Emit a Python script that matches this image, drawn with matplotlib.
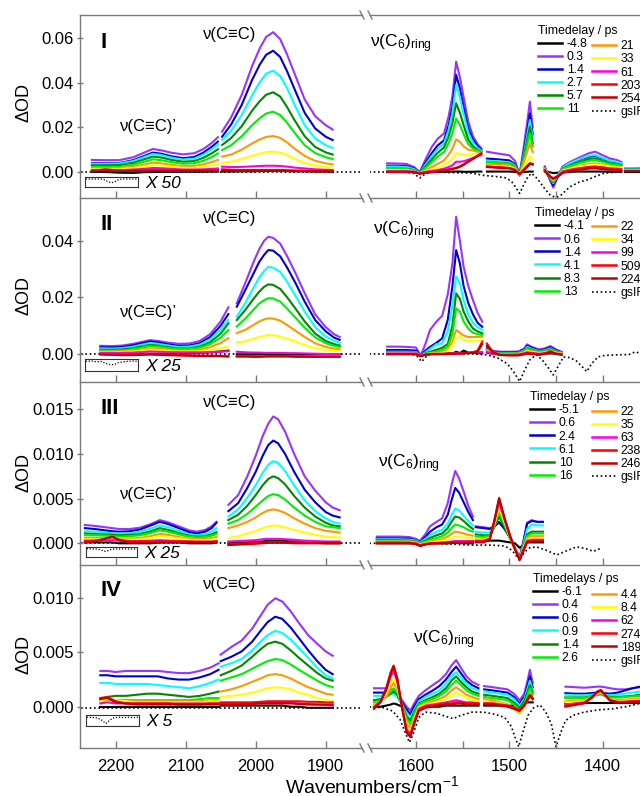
import matplotlib
matplotlib.use('Agg')
import matplotlib.pyplot as plt
from matplotlib.lines import Line2D
from matplotlib.ticker import FormatStrFormatter
import numpy as np

plt.rcParams['font.family'] = ['Liberation Sans', 'DejaVu Sans']
plt.rcParams['mathtext.fontset'] = 'custom'
plt.rcParams['mathtext.rm'] = 'Liberation Sans'
plt.rcParams['mathtext.it'] = 'Liberation Sans:italic'
plt.rcParams['mathtext.bf'] = 'Liberation Sans:bold'

# ---------------- series styling / labels ----------------
COLORS = ['#000000', '#9933FF', '#0000CD', '#00FFFF', '#008800', '#00EE00',
          '#FF9900', '#FFFF00', '#FF00DD', '#FF0000', '#C00000']
LABELS_I = ['-4.8', '0.3', '1.4', '2.7', '5.7', '11', '21', '33', '61', '203', '2540']
LABELS_II = ['-4.1', '0.6', '1.4', '4.1', '8.3', '13', '22', '34', '99', '509', '2240']
LABELS_III = ['-5.1', '0.6', '2.4', '6.1', '10', '16', '22', '35', '63', '238', '2460']
LABELS_IV = ['-6.1', '0.4', '0.6', '0.9', '1.4', '2.6', '4.4', '8.4', '62', '274', '1890']
GS_LABEL = 'gsIR'

# ---------------- data (mOD), rows in legend order ----------------
# Panel I
P1_WN_A = [2234, 2215, 2195, 2175, 2160, 2147, 2135, 2120, 2104, 2088, 2075, 2062, 2054]
P1_A = [
    [0.1, 0.0, -0.3, -0.4, -0.1, 0.0, 0.1, 0.1, 0.1, 0.1, 0.1, 0.2, 0.2],
    [5.4, 5.3, 5.3, 6.6, 8.6, 10.3, 9.7, 8.6, 7.9, 8.4, 10.2, 13.2, 15.6],
    [3.9, 3.9, 4.0, 5.3, 7.1, 8.7, 8.2, 7.0, 6.2, 6.7, 8.6, 11.5, 13.6],
    [3.6, 3.6, 3.8, 4.9, 6.6, 8.1, 7.6, 6.4, 5.6, 6.0, 7.7, 10.4, 12.4],
    [3.0, 3.0, 3.1, 4.1, 5.6, 6.9, 6.5, 5.4, 4.6, 4.9, 6.3, 8.5, 10.2],
    [2.2, 2.2, 2.3, 3.2, 4.5, 5.7, 5.3, 4.4, 3.7, 3.9, 5.0, 6.8, 8.3],
    [1.8, 1.7, 1.8, 2.4, 3.3, 4.2, 3.9, 3.2, 2.6, 2.7, 3.4, 4.5, 5.4],
    [1.3, 1.2, 1.3, 1.8, 2.4, 3.1, 2.9, 2.3, 1.9, 1.9, 2.3, 2.9, 3.4],
    [0.8, 0.8, 0.8, 1.1, 1.4, 1.8, 1.7, 1.4, 1.1, 1.1, 1.2, 1.4, 1.6],
    [0.6, 1.2, 0.7, 0.7, 0.8, 0.9, 0.9, 0.8, 0.7, 0.7, 0.7, 0.8, 0.9],
    [0.5, 1.0, 0.5, 0.5, 0.5, 0.6, 0.6, 0.5, 0.5, 0.5, 0.5, 0.6, 0.7],
]
P1_WN_B = [2048, 2035, 2020, 2005, 1994, 1985, 1975, 1965, 1955, 1945, 1930, 1915, 1900, 1890]
P1_B = [
    [0.2, 0.2, 0.3, 0.3, 0.4, 0.4, 0.5, 0.5, 0.4, 0.3, 0.3, 0.2, 0.2, 0.1],
    [18.1, 24.5, 34.5, 47.5, 55.5, 60.5, 62.6, 59.5, 52.5, 44.5, 32.5, 25.0, 21.0, 19.0],
    [15.8, 21.3, 30.0, 41.3, 48.2, 52.5, 54.3, 51.5, 45.0, 37.5, 26.5, 19.5, 15.8, 14.3],
    [14.3, 18.5, 25.5, 34.5, 40.3, 44.0, 45.4, 43.0, 37.5, 30.5, 21.0, 15.0, 12.0, 10.8],
    [12.1, 15.2, 20.5, 27.5, 31.8, 34.6, 35.7, 33.8, 29.0, 23.5, 16.0, 11.2, 8.8, 7.8],
    [9.8, 12.0, 16.0, 21.0, 24.2, 26.2, 27.0, 25.5, 22.0, 17.8, 12.0, 8.5, 6.6, 5.8],
    [6.9, 7.8, 10.0, 12.8, 14.6, 15.7, 16.1, 15.3, 13.2, 10.6, 7.2, 5.0, 3.9, 3.4],
    [4.2, 4.6, 5.8, 7.3, 8.3, 8.9, 9.1, 8.7, 7.5, 6.0, 4.1, 2.9, 2.2, 1.9],
    [2.4, 2.2, 2.3, 2.5, 2.7, 2.8, 2.8, 2.7, 2.4, 2.0, 1.6, 1.2, 1.0, 0.9],
    [1.2, 1.0, 0.9, 0.9, 0.9, 0.9, 0.9, 0.9, 0.8, 0.7, 0.6, 0.5, 0.5, 0.5],
    [0.8, 0.6, 0.5, 0.5, 0.5, 0.5, 0.5, 0.5, 0.5, 0.4, 0.4, 0.3, 0.3, 0.3],
]
P1_WN_C = [1631, 1620, 1610, 1602, 1596, 1590, 1583, 1577, 1570, 1565, 1561, 1557, 1553, 1549, 1544, 1539, 1534, 1530]
P1_C = [
    [0.0, 0.0, 0.0, 0.0, -0.3, -0.1, 0.0, 0.1, 0.1, 0.1, 0.2, 0.2, 0.2, 0.1, 0.1, 0.1, 0.2, 0.2],
    [3.9, 3.8, 3.6, 2.2, 0.0, 5.5, 11.3, 14.8, 17.3, 25.0, 34.0, 49.4, 42.5, 33.5, 22.5, 16.0, 12.5, 10.6],
    [2.8, 2.8, 2.6, 1.6, -0.3, 4.0, 8.5, 11.8, 14.2, 21.0, 29.0, 43.5, 37.5, 29.0, 19.5, 14.5, 11.5, 10.0],
    [2.4, 2.4, 2.2, 1.3, -0.4, 3.2, 7.2, 10.2, 12.7, 19.0, 26.5, 39.0, 33.5, 26.0, 17.5, 13.2, 10.8, 9.6],
    [1.6, 1.6, 1.5, 0.8, -0.5, 2.4, 5.8, 8.5, 11.0, 16.0, 22.0, 30.8, 26.5, 21.0, 14.5, 11.5, 9.8, 9.1],
    [1.6, 1.6, 1.4, 0.7, -0.5, 1.8, 4.5, 6.8, 9.0, 13.0, 17.5, 24.0, 21.0, 17.0, 12.5, 10.5, 9.5, 9.0],
    [0.9, 0.9, 0.8, 0.3, -0.6, 0.8, 2.2, 3.6, 5.2, 7.8, 10.5, 14.6, 13.5, 11.5, 10.0, 9.6, 9.0, 8.7],
    [0.9, 0.9, 0.8, 0.3, -0.6, 0.4, 1.2, 2.0, 3.0, 4.5, 6.0, 8.4, 8.2, 7.6, 7.8, 8.0, 8.1, 8.1],
    [0.4, 0.4, 0.4, 0.2, -0.6, 0.1, 0.5, 0.9, 1.5, 2.2, 3.0, 4.6, 4.6, 4.8, 5.5, 6.3, 7.0, 7.6],
    [0.1, 0.1, 0.1, 0.0, -0.7, -0.2, 0.0, 0.3, 0.8, 1.2, 1.5, 1.9, 2.5, 3.4, 4.8, 6.0, 7.4, 8.4],
    [0.0, 0.0, 0.0, -0.1, -0.8, -0.3, -0.1, 0.2, 0.6, 1.0, 1.3, 1.7, 2.3, 3.2, 4.6, 5.8, 7.2, 8.2],
]
P1_WN_D = [1524, 1516, 1508, 1500, 1494, 1489, 1485, 1481, 1478, 1475]
P1_D = [
    [0.2, 0.2, 0.2, 0.2, 0.0, -0.2, 0.0, 0.1, 0.2, 0.2],
    [9.1, 8.5, 8.0, 7.5, 5.0, -1.0, 10.0, 22.0, 31.5, 20.0],
    [6.0, 5.8, 5.5, 5.2, 3.5, -1.5, 8.0, 18.0, 26.3, 17.0],
    [5.0, 4.8, 4.6, 4.4, 3.0, -1.5, 7.0, 16.0, 23.3, 15.0],
    [4.4, 4.2, 4.0, 3.8, 2.5, -1.5, 6.0, 14.0, 20.3, 13.0],
    [4.4, 4.2, 4.0, 3.7, 2.4, -1.4, 5.0, 12.0, 17.3, 11.5],
    [3.5, 3.3, 3.1, 2.9, 1.8, -1.3, 3.8, 9.0, 12.8, 9.0],
    [2.8, 2.6, 2.5, 2.3, 1.4, -1.2, 2.0, 4.8, 6.9, 5.5],
    [2.4, 2.2, 2.0, 1.8, 1.0, -1.0, 1.0, 2.8, 3.9, 3.5],
    [2.5, 2.2, 2.0, 1.8, 1.0, -1.0, 0.8, 2.5, 3.9, 3.6],
    [2.2, 2.0, 1.8, 1.6, 0.8, -1.0, 0.6, 2.2, 3.6, 3.3],
]
P1_WN_E = [1462, 1458, 1453, 1448, 1443, 1435, 1425, 1415, 1408, 1400, 1392, 1385, 1380]
P1_E = [
    [0.2, 0.0, -0.5, -0.3, 0.0, 0.1, 0.2, 0.2, 0.2, 0.2, 0.1, 0.1, 0.1],
    [2.5, -2.0, -7.0, -2.0, 2.5, 4.5, 6.5, 8.4, 9.1, 7.5, 6.0, 5.4, 4.5],
    [2.0, -2.0, -6.0, -2.0, 2.0, 3.8, 5.5, 6.8, 7.2, 6.0, 4.8, 4.3, 3.8],
    [1.8, -1.8, -5.0, -1.5, 2.0, 4.0, 5.8, 7.3, 7.6, 6.3, 5.0, 4.5, 4.0],
    [1.5, -1.5, -4.5, -1.5, 1.5, 3.0, 4.5, 5.8, 6.1, 5.0, 4.0, 3.6, 3.2],
    [1.5, -1.5, -4.2, -1.5, 1.3, 2.6, 4.0, 5.0, 5.4, 4.5, 3.6, 3.2, 2.8],
    [1.2, -1.2, -3.8, -1.5, 0.8, 1.8, 2.8, 3.6, 3.9, 3.3, 2.7, 2.4, 2.1],
    [1.0, -1.2, -3.5, -1.5, 0.6, 1.5, 2.4, 3.1, 3.4, 2.9, 2.4, 2.1, 1.9],
    [0.8, -1.2, -3.0, -1.5, 0.3, 1.0, 1.7, 2.2, 2.4, 2.0, 1.7, 1.5, 1.3],
    [0.8, -1.5, -3.0, -2.0, -0.3, 0.8, 1.6, 2.2, 2.4, 2.0, 1.5, 1.2, 1.0],
    [0.5, -1.5, -3.0, -2.0, -0.5, 0.4, 1.0, 1.5, 1.6, 1.3, 1.0, 0.8, 0.6],
]
P1_WN_F = [1376, 1365, 1355, 1345]
P1_F = [
    [0.1, 0.1, 0.1, 0.1], [1.6, 1.6, 1.7, 1.7], [1.3, 1.3, 1.4, 1.4], [1.2, 1.2, 1.3, 1.3],
    [1.0, 1.0, 1.1, 1.1], [0.9, 0.9, 1.0, 1.0], [0.7, 0.7, 0.8, 0.8], [0.6, 0.6, 0.7, 0.7],
    [0.5, 0.5, 0.5, 0.5], [0.4, 0.4, 0.4, 0.4], [0.3, 0.3, 0.3, 0.3],
]
P1_GS_L_WN = [2250, 2150, 2050, 1950, 1850]
P1_GS_L = [0.0, 0.0, 0.0, 0.0, 0.0]
P1_GS_R_WN = [1650, 1615, 1603, 1596, 1590, 1582, 1560, 1540, 1528, 1515, 1505, 1498, 1493, 1489, 1485, 1480,
              1476, 1470, 1463, 1456, 1450, 1445, 1440, 1435, 1425, 1417, 1408, 1399, 1390, 1381, 1364, 1340]
P1_GS_R = [0.0, 0.0, -0.5, -2.7, -0.8, 0.0, -0.3, -0.5, -1.5, -2.0, -2.5, -4.0, -7.0, -9.6, -6.0, -2.0,
           -0.6, -3.0, -7.0, -10.5, -11.4, -10.5, -8.5, -6.6, -4.5, -3.6, -2.0, -0.6, -0.2, 0.0, 0.7, 0.5]

# Panel II
P2_WN_A = [2222, 2205, 2190, 2175, 2162, 2151, 2140, 2125, 2110, 2095, 2080, 2065, 2050, 2039]
P2_A = [
    [0.0, 0.0, 0.0, 0.0, 0.1, 0.1, 0.1, 0.1, 0.2, 0.3, 0.4, 0.6, 0.9, 1.2],
    [2.9, 2.8, 3.0, 3.6, 4.3, 4.9, 4.6, 4.0, 3.6, 3.7, 4.6, 7.0, 11.5, 16.5],
    [2.4, 2.3, 2.5, 3.1, 3.8, 4.4, 4.1, 3.4, 2.9, 3.0, 3.8, 6.0, 10.0, 14.1],
    [2.0, 1.9, 2.1, 2.6, 3.3, 3.9, 3.6, 3.0, 2.5, 2.6, 3.3, 5.2, 8.5, 12.0],
    [1.5, 1.5, 1.6, 2.1, 2.7, 3.2, 3.0, 2.4, 2.0, 2.0, 2.6, 4.2, 7.2, 10.8],
    [1.2, 1.2, 1.3, 1.7, 2.3, 2.8, 2.6, 2.1, 1.7, 1.7, 2.2, 3.5, 5.8, 8.5],
    [0.9, 0.9, 1.0, 1.2, 1.6, 2.0, 1.9, 1.5, 1.2, 1.2, 1.5, 2.4, 3.9, 5.6],
    [0.6, 0.6, 0.7, 0.9, 1.2, 1.5, 1.4, 1.1, 0.9, 0.9, 1.0, 1.4, 2.0, 2.6],
    [0.4, 0.4, 0.4, 0.5, 0.7, 0.9, 0.8, 0.7, 0.6, 0.6, 0.6, 0.7, 0.8, 1.0],
    [0.0, -0.2, -0.3, -0.3, -0.2, 0.0, -0.1, -0.3, -0.4, -0.5, -0.6, -0.6, -0.7, -0.8],
    [-0.2, -0.3, -0.4, -0.4, -0.3, -0.2, -0.3, -0.4, -0.5, -0.6, -0.7, -0.7, -0.8, -0.9],
]
P2_WN_B = [2027, 2015, 2003, 1995, 1988, 1982, 1975, 1965, 1955, 1943, 1930, 1915, 1900, 1888, 1880]
P2_B = [
    [-0.1, -0.1, -0.1, 0.0, 0.0, 0.0, 0.0, 0.0, 0.0, -0.1, -0.1, -0.1, -0.1, -0.1, -0.1],
    [17.9, 25.0, 32.5, 37.0, 40.0, 41.4, 41.0, 39.0, 34.5, 28.5, 21.5, 14.0, 9.5, 7.0, 6.0],
    [16.7, 22.5, 28.5, 32.5, 35.0, 36.7, 36.5, 34.5, 30.5, 25.0, 18.5, 12.0, 8.0, 5.8, 5.0],
    [13.2, 18.0, 23.5, 27.0, 29.3, 30.8, 30.5, 29.0, 25.5, 20.5, 15.0, 9.5, 6.2, 4.6, 4.0],
    [12.0, 15.5, 19.5, 22.0, 23.7, 24.6, 24.4, 23.0, 20.0, 16.0, 11.5, 7.2, 4.6, 3.5, 3.0],
    [9.7, 12.5, 15.7, 17.8, 19.0, 19.7, 19.6, 18.5, 16.0, 12.8, 9.3, 5.9, 3.8, 2.9, 2.5],
    [7.4, 8.5, 10.3, 11.5, 12.2, 12.6, 12.5, 11.8, 10.2, 8.2, 6.0, 3.8, 2.5, 1.9, 1.6],
    [4.0, 4.5, 5.4, 6.0, 6.4, 6.7, 6.6, 6.2, 5.4, 4.4, 3.2, 2.0, 1.4, 1.1, 1.0],
    [0.8, 0.6, 0.5, 0.5, 0.4, 0.4, 0.4, 0.4, 0.3, 0.3, 0.2, 0.1, 0.0, 0.0, 0.0],
    [-0.8, -0.8, -0.8, -0.8, -0.8, -0.7, -0.7, -0.7, -0.7, -0.8, -0.8, -0.9, -0.9, -0.9, -0.9],
    [-0.9, -0.9, -1.0, -1.0, -0.9, -0.9, -0.9, -0.9, -0.9, -1.0, -1.0, -1.0, -1.0, -1.0, -1.0],
]
P2_WN_C = [1631, 1620, 1610, 1600, 1595, 1590, 1585, 1578, 1572, 1566, 1561, 1557, 1553, 1549, 1544, 1539, 1534, 1529]
P2_C = [
    [0.0, 0.0, 0.0, 0.0, -0.3, -0.1, 0.0, 0.0, 0.0, 0.3, 0.1, 0.8, 0.3, 1.2, 0.5, 0.4, 0.3, 0.2],
    [2.6, 2.6, 2.5, 2.3, -0.5, 3.5, 8.5, 11.5, 13.5, 21.0, 32.0, 48.5, 40.0, 30.8, 24.0, 19.0, 14.5, 11.4],
    [1.4, 1.4, 1.4, 1.2, -0.6, 1.2, 2.5, 4.0, 5.5, 12.0, 24.0, 36.7, 32.0, 24.0, 18.0, 14.0, 11.0, 9.6],
    [0.8, 0.8, 0.8, 0.7, -0.6, 0.6, 1.8, 3.5, 3.7, 8.0, 17.0, 27.3, 25.0, 19.0, 14.0, 11.0, 9.5, 8.5],
    [0.6, 0.6, 0.6, 0.5, -0.6, 0.3, 0.8, 1.5, 2.2, 3.5, 10.0, 21.4, 19.5, 15.0, 11.5, 9.0, 8.0, 7.3],
    [0.5, 0.5, 0.5, 0.4, -0.6, 0.2, 0.5, 0.9, 1.4, 2.5, 7.0, 16.1, 15.0, 11.5, 9.0, 7.5, 7.0, 6.7],
    [0.4, 0.4, 0.4, 0.3, -0.6, 0.0, 0.2, 0.4, 0.7, 1.5, 4.5, 8.5, 7.5, 6.5, 6.0, 6.0, 6.0, 6.1],
    [0.3, 0.3, 0.3, 0.2, -0.6, -0.1, 0.1, 0.2, 0.4, 1.0, 3.0, 5.5, 6.1, 5.0, 4.5, 4.5, 4.7, 4.9],
    [0.2, 0.2, 0.2, 0.2, -0.6, -0.1, 0.0, 0.1, 0.1, 0.2, 0.3, 0.4, 0.4, 0.4, 0.5, 0.5, 0.6, 0.7],
    [0.0, 0.0, 0.0, 0.0, -0.7, -0.2, 0.0, 0.0, 0.0, 0.1, 0.2, 0.2, 0.2, 0.3, 0.4, 0.6, 1.2, 4.4],
    [-0.1, -0.1, -0.1, -0.1, -0.8, -0.3, -0.1, -0.1, -0.1, 0.0, 0.1, 0.1, 0.1, 0.2, 0.3, 0.4, 0.8, 3.5],
]
P2_WN_D = [1524, 1518, 1510, 1500, 1490, 1484, 1481, 1476, 1468, 1462, 1456, 1450, 1444]
P2_D = [
    [0.5, 0.0, 0.0, 0.0, 0.0, 0.1, 0.2, 0.1, 0.0, 0.1, 0.2, 0.1, 0.0],
    [2.6, 1.2, 0.8, 0.8, 0.9, 2.0, 3.4, 2.5, 1.6, 2.0, 2.8, 1.6, 0.8],
    [2.0, 0.8, 0.5, 0.5, 0.6, 1.6, 2.9, 2.2, 1.2, 1.6, 2.4, 1.3, 0.6],
    [1.6, 0.6, 0.3, 0.3, 0.4, 1.3, 2.5, 1.8, 1.0, 1.3, 2.0, 1.0, 0.5],
    [1.3, 0.4, 0.1, 0.1, 0.2, 1.0, 2.0, 1.5, 0.8, 1.0, 1.7, 0.8, 0.3],
    [1.3, 0.4, 0.1, 0.1, 0.2, 0.9, 1.8, 1.3, 0.7, 0.9, 1.5, 0.7, 0.3],
    [1.2, 0.3, 0.0, 0.0, 0.1, 0.7, 1.4, 1.0, 0.5, 0.7, 1.2, 0.5, 0.2],
    [1.0, 0.2, -0.1, -0.1, 0.0, 0.5, 1.0, 0.7, 0.3, 0.5, 0.9, 0.4, 0.1],
    [0.8, 0.1, -0.2, -0.2, -0.1, 0.3, 0.6, 0.4, 0.1, 0.3, 0.6, 0.2, 0.0],
    [3.7, 0.8, -0.3, -0.4, -0.4, 0.0, 0.4, 0.2, -0.2, 0.2, 1.0, 0.1, -0.2],
    [3.0, 0.5, -0.4, -0.5, -0.5, -0.1, 0.2, 0.0, -0.3, 0.0, 0.7, 0.0, -0.3],
]
P2_GS_L_WN = [2250, 2150, 2050, 1950, 1850]
P2_GS_L = [0.0, 0.0, 0.0, 0.0, 0.0]
P2_GS_R_WN = [1650, 1605, 1599, 1594, 1588, 1582, 1540, 1524, 1512, 1502, 1495, 1489, 1484, 1478, 1471, 1465,
              1458, 1453, 1448, 1442, 1435, 1428, 1422, 1417, 1412, 1405, 1398, 1385, 1372, 1365, 1358, 1340]
P2_GS_R = [0.0, 0.0, -0.8, -2.7, -0.5, 0.0, 0.0, -0.3, -1.5, -3.5, -6.5, -9.7, -6.0, -2.0, -0.3, -2.0,
           -5.0, -7.4, -4.5, -1.0, -1.3, -2.5, -4.5, -6.2, -3.5, -1.0, -0.5, -0.3, -0.2, 0.8, 0.0, 0.0]

# Panel III
P3_WN_A = [2244, 2230, 2215, 2205, 2195, 2180, 2165, 2150, 2137, 2125, 2110, 2095, 2084, 2072, 2063, 2056]
P3_A = [
    [0.1, 0.1, 0.1, 0.1, 0.0, 0.0, 0.0, 0.0, 0.1, 0.1, 0.1, 0.0, 0.0, 0.0, 0.0, 0.1],
    [2.05, 1.95, 1.8, 1.7, 1.6, 1.6, 1.75, 2.15, 2.6, 2.35, 1.9, 1.45, 1.3, 1.5, 1.9, 2.4],
    [1.7, 1.6, 1.45, 1.35, 1.3, 1.35, 1.55, 2.0, 2.4, 2.15, 1.7, 1.25, 1.1, 1.3, 1.7, 2.3],
    [1.35, 1.3, 1.2, 1.1, 1.1, 1.1, 1.3, 1.65, 2.0, 1.8, 1.4, 1.0, 0.9, 1.0, 1.3, 1.7],
    [1.1, 1.05, 1.0, 0.95, 0.9, 0.95, 1.05, 1.35, 1.7, 1.5, 1.15, 0.85, 0.75, 0.8, 1.0, 1.25],
    [0.9, 0.9, 0.85, 0.8, 0.75, 0.8, 0.9, 1.15, 1.45, 1.3, 1.0, 0.75, 0.65, 0.7, 0.85, 1.05],
    [0.6, 0.6, 0.6, 0.55, 0.5, 0.55, 0.6, 0.8, 1.05, 0.95, 0.7, 0.55, 0.5, 0.5, 0.6, 0.7],
    [0.45, 0.45, 0.45, 0.45, 0.4, 0.4, 0.45, 0.6, 0.8, 0.7, 0.55, 0.4, 0.35, 0.35, 0.4, 0.5],
    [0.3, 0.3, 0.3, 0.35, 0.3, 0.25, 0.25, 0.3, 0.35, 0.3, 0.25, 0.2, 0.2, 0.2, 0.2, 0.25],
    [0.2, 0.3, 0.5, 0.7, 0.4, 0.2, 0.2, 0.2, 0.2, 0.2, 0.2, 0.2, 0.15, 0.15, 0.15, 0.2],
    [0.1, 0.2, 0.5, 0.75, 0.35, 0.1, 0.1, 0.1, 0.1, 0.1, 0.1, 0.1, 0.1, 0.1, 0.1, 0.1],
]
P3_WN_B = [2039, 2025, 2012, 2000, 1990, 1982, 1975, 1968, 1958, 1945, 1930, 1915, 1900, 1890, 1880]
P3_B = [
    [0.0, 0.05, 0.1, 0.15, 0.2, 0.3, 0.3, 0.3, 0.25, 0.2, 0.1, 0.05, 0.0, 0.0, 0.0],
    [4.3, 5.4, 7.5, 9.8, 12.0, 13.4, 14.2, 13.9, 12.5, 10.0, 7.5, 5.9, 4.6, 4.0, 3.7],
    [3.6, 4.5, 6.2, 8.0, 9.8, 11.0, 11.5, 11.2, 10.0, 8.0, 6.0, 4.6, 3.5, 3.1, 2.9],
    [3.0, 3.8, 5.1, 6.5, 7.9, 8.8, 9.2, 9.0, 8.1, 6.5, 4.8, 3.6, 2.8, 2.4, 2.2],
    [2.6, 3.2, 4.2, 5.4, 6.5, 7.2, 7.5, 7.3, 6.6, 5.3, 4.0, 3.0, 2.3, 2.0, 1.9],
    [2.2, 2.6, 3.3, 4.1, 4.8, 5.3, 5.5, 5.4, 4.9, 4.0, 3.1, 2.4, 1.9, 1.8, 1.7],
    [1.7, 2.0, 2.4, 2.9, 3.4, 3.7, 3.8, 3.7, 3.4, 2.8, 2.2, 1.7, 1.4, 1.3, 1.2],
    [0.6, 0.8, 1.1, 1.4, 1.7, 1.9, 2.0, 1.95, 1.8, 1.5, 1.2, 0.95, 0.75, 0.7, 0.65],
    [0.2, 0.25, 0.3, 0.35, 0.45, 0.5, 0.5, 0.5, 0.45, 0.4, 0.3, 0.25, 0.2, 0.2, 0.2],
    [-0.1, -0.05, 0.0, 0.05, 0.1, 0.1, 0.15, 0.15, 0.1, 0.1, 0.05, 0.05, 0.1, 0.1, 0.1],
    [-0.2, -0.15, -0.1, -0.05, 0.0, 0.05, 0.05, 0.05, 0.05, 0.0, 0.0, 0.0, 0.0, 0.0, 0.0],
]
P3_WN_C = [1642, 1630, 1618, 1607, 1600, 1596, 1590, 1585, 1578, 1572, 1566, 1562, 1558, 1554, 1549, 1544, 1539]
P3_C = [
    [0.0, 0.0, 0.0, 0.0, 0.0, -0.1, 0.0, 0.0, 0.0, 0.0, 0.0, 0.05, 0.05, 0.05, 0.0, 0.0, 0.0],
    [0.75, 0.75, 0.75, 0.7, 0.5, 0.25, 1.0, 1.9, 2.4, 2.8, 4.5, 6.5, 8.1, 7.3, 5.8, 4.2, 3.0],
    [0.55, 0.55, 0.55, 0.5, 0.35, 0.15, 0.7, 1.3, 1.8, 2.1, 3.2, 4.8, 6.2, 5.7, 4.6, 3.5, 2.6],
    [0.45, 0.45, 0.45, 0.4, 0.3, 0.1, 0.5, 0.9, 1.3, 1.5, 2.2, 3.1, 3.9, 3.7, 3.1, 2.5, 2.0],
    [0.35, 0.35, 0.35, 0.3, 0.2, 0.05, 0.3, 0.6, 0.9, 1.1, 1.7, 2.4, 3.0, 2.9, 2.5, 2.0, 1.6],
    [0.3, 0.3, 0.3, 0.25, 0.15, 0.0, 0.2, 0.4, 0.6, 0.8, 1.2, 1.7, 2.1, 2.0, 1.8, 1.5, 1.3],
    [0.2, 0.2, 0.2, 0.2, 0.1, -0.1, 0.1, 0.2, 0.35, 0.5, 0.75, 1.05, 1.3, 1.25, 1.1, 0.95, 0.85],
    [0.15, 0.15, 0.15, 0.15, 0.05, -0.15, 0.0, 0.1, 0.2, 0.3, 0.45, 0.6, 0.75, 0.7, 0.65, 0.6, 0.55],
    [0.1, 0.1, 0.1, 0.1, 0.0, -0.2, -0.05, 0.0, 0.05, 0.1, 0.15, 0.2, 0.25, 0.25, 0.25, 0.25, 0.25],
    [0.05, 0.05, 0.05, 0.05, -0.05, -0.25, -0.1, 0.0, 0.0, 0.05, 0.05, 0.1, 0.1, 0.1, 0.1, 0.15, 0.15],
    [0.0, 0.0, 0.0, 0.0, -0.1, -0.3, -0.15, -0.05, 0.0, 0.0, 0.0, 0.05, 0.05, 0.05, 0.05, 0.1, 0.1],
]
P3_WN_D = [1536, 1528, 1521, 1516, 1511, 1505, 1499, 1494, 1489, 1485, 1481, 1476, 1470, 1464]
P3_D = [
    [0.2, 0.2, 0.3, 0.3, 0.3, 0.2, 0.1, 0.0, -0.5, -0.2, 0.1, 0.1, 0.1, 0.1],
    [1.9, 1.8, 1.7, 1.9, 2.3, 1.6, 0.6, -0.6, -1.6, 0.2, 2.3, 2.6, 2.4, 2.4],
    [1.8, 1.7, 1.6, 1.9, 2.4, 1.6, 0.6, -0.6, -1.6, 0.1, 2.2, 2.5, 2.4, 2.4],
    [1.3, 1.2, 1.2, 2.0, 3.3, 2.0, 0.6, -0.6, -1.6, -0.1, 1.6, 2.1, 2.0, 2.0],
    [1.0, 0.9, 0.9, 1.8, 3.0, 1.8, 0.5, -0.6, -1.6, -0.3, 1.0, 1.3, 1.3, 1.3],
    [0.8, 0.7, 0.8, 2.0, 3.5, 2.0, 0.5, -0.6, -1.7, -0.4, 0.8, 1.1, 1.1, 1.1],
    [0.6, 0.5, 0.7, 2.3, 4.3, 2.4, 0.6, -0.6, -1.7, -0.5, 0.6, 0.8, 0.8, 0.8],
    [0.5, 0.4, 0.6, 2.2, 4.0, 2.3, 0.6, -0.6, -1.7, -0.6, 0.4, 0.6, 0.6, 0.6],
    [0.3, 0.3, 0.5, 2.5, 4.6, 2.6, 0.7, -0.6, -1.7, -0.7, 0.3, 0.4, 0.4, 0.4],
    [0.2, 0.2, 0.5, 2.6, 5.1, 2.8, 0.8, -0.6, -1.8, -0.8, 0.2, 0.3, 0.3, 0.3],
    [0.1, 0.1, 0.4, 2.5, 5.0, 2.7, 0.7, -0.7, -1.9, -0.9, 0.1, 0.2, 0.2, 0.2],
]
P3_GS_L_WN = [2250, 2150, 2050, 1950, 1850]
P3_GS_L = [0.0, 0.0, 0.0, 0.0, 0.0]
P3_GS_R_WN = [1650, 1605, 1600, 1596, 1590, 1580, 1540, 1520, 1505, 1497, 1489, 1484, 1478, 1471, 1460,
              1449, 1440, 1428, 1418, 1410, 1403]
P3_GS_R = [0.0, 0.0, -0.1, -0.4, -0.1, 0.0, -0.2, -0.2, -0.3, -0.8, -1.9, -1.0, -0.5, -0.4, -0.8,
           -1.3, -0.9, -0.4, -0.6, -0.9, -0.6]

# Panel IV
P4_WN_A = [2222, 2212, 2200, 2185, 2170, 2155, 2140, 2125, 2110, 2095, 2080, 2065, 2053]
P4_A = [
    [0.0, 0.0, 0.0, 0.0, 0.0, 0.0, 0.0, 0.0, 0.0, 0.0, 0.0, 0.0, 0.0],
    [3.3, 3.3, 3.2, 3.3, 3.3, 3.3, 3.3, 3.2, 3.1, 3.1, 3.3, 3.6, 4.0],
    [2.9, 2.9, 2.8, 2.8, 2.8, 2.8, 2.8, 2.6, 2.5, 2.5, 2.7, 3.0, 3.4],
    [2.2, 2.2, 2.1, 2.1, 2.1, 2.1, 2.0, 1.9, 1.8, 1.7, 1.9, 2.2, 2.5],
    [0.7, 0.9, 1.0, 1.0, 1.1, 1.2, 1.2, 1.1, 1.0, 0.9, 1.0, 1.2, 1.4],
    [0.5, 0.6, 0.6, 0.6, 0.6, 0.6, 0.6, 0.6, 0.6, 0.6, 0.7, 0.8, 0.8],
    [0.6, 0.8, 0.5, 0.5, 0.5, 0.5, 0.5, 0.5, 0.5, 0.5, 0.5, 0.6, 0.6],
    [0.5, 0.7, 0.6, 0.5, 0.4, 0.4, 0.4, 0.4, 0.4, 0.4, 0.4, 0.5, 0.5],
    [0.3, 0.4, 0.3, 0.3, 0.3, 0.3, 0.3, 0.3, 0.3, 0.3, 0.3, 0.3, 0.3],
    [0.8, 0.9, 0.5, 0.3, 0.3, 0.3, 0.3, 0.3, 0.2, 0.2, 0.2, 0.3, 0.3],
    [0.7, 0.8, 0.4, 0.3, 0.2, 0.2, 0.2, 0.2, 0.2, 0.2, 0.2, 0.2, 0.2],
]
P4_WN_B = [2050, 2035, 2020, 2005, 1993, 1983, 1972, 1962, 1950, 1938, 1925, 1912, 1900, 1890]
P4_B = [
    [0.1, 0.1, 0.1, 0.1, 0.1, 0.1, 0.1, 0.1, 0.0, 0.0, -0.1, -0.1, -0.1, -0.1],
    [4.8, 5.5, 6.1, 7.2, 8.4, 9.4, 10.0, 9.7, 8.8, 7.7, 6.6, 5.8, 5.1, 4.7],
    [4.2, 4.6, 5.1, 6.0, 7.0, 7.8, 8.3, 8.1, 7.3, 6.3, 5.2, 4.2, 3.4, 3.0],
    [3.7, 4.0, 4.4, 5.2, 6.0, 6.6, 7.0, 6.8, 6.2, 5.4, 4.5, 3.6, 2.9, 2.6],
    [2.9, 3.3, 3.8, 4.6, 5.3, 5.8, 6.0, 5.8, 5.2, 4.5, 3.8, 3.1, 2.6, 2.4],
    [2.4, 2.7, 3.0, 3.5, 3.9, 4.2, 4.4, 4.3, 3.9, 3.4, 2.9, 2.4, 2.0, 1.8],
    [1.4, 1.6, 1.9, 2.3, 2.6, 2.9, 3.0, 2.9, 2.6, 2.2, 1.8, 1.5, 1.2, 1.1],
    [0.9, 1.0, 1.1, 1.3, 1.5, 1.7, 1.8, 1.75, 1.6, 1.3, 1.1, 0.8, 0.6, 0.55],
    [0.3, 0.3, 0.3, 0.3, 0.35, 0.4, 0.4, 0.4, 0.35, 0.3, 0.25, 0.2, 0.15, 0.1],
    [0.4, 0.4, 0.4, 0.4, 0.45, 0.5, 0.5, 0.5, 0.5, 0.5, 0.45, 0.45, 0.4, 0.4],
    [0.2, 0.2, 0.2, 0.25, 0.3, 0.3, 0.3, 0.3, 0.3, 0.25, 0.2, 0.2, 0.2, 0.2],
]
P4_WN_C = [1645, 1638, 1632, 1627, 1624, 1620, 1615, 1610, 1606, 1602, 1597, 1590, 1582, 1575, 1568,
           1562, 1557, 1552, 1546, 1540, 1533]
P4_C = [
    [0.0, 0.0, 0.1, 0.2, 0.3, 0.2, 0.0, -0.2, -0.3, -0.1, 0.0, 0.0, 0.0, 0.0, 0.1, 0.1, 0.1, 0.1, 0.1, 0.1, 0.1],
    [1.7, 1.7, 1.7, 1.6, 1.5, 1.2, 0.6, 0.0, -0.4, 0.3, 1.0, 1.5, 2.0, 2.4, 3.0, 3.8, 4.3, 3.6, 2.8, 2.3, 2.0],
    [1.3, 1.3, 1.3, 1.3, 1.3, 1.0, 0.4, -0.3, -0.7, 0.0, 0.7, 1.1, 1.5, 1.9, 2.5, 3.2, 3.7, 3.1, 2.4, 2.0, 1.7],
    [1.0, 1.0, 1.1, 1.2, 1.2, 0.9, 0.2, -0.6, -1.0, -0.3, 0.5, 0.9, 1.2, 1.5, 2.1, 2.8, 3.2, 2.7, 2.1, 1.7, 1.5],
    [0.6, 0.7, 0.9, 1.2, 1.4, 1.1, 0.2, -0.9, -1.3, -0.5, 0.3, 0.6, 0.9, 1.2, 1.7, 2.4, 2.8, 2.3, 1.8, 1.4, 1.2],
    [0.4, 0.6, 0.9, 1.4, 1.7, 1.3, 0.2, -1.1, -1.6, -0.7, 0.2, 0.5, 0.7, 1.0, 1.4, 2.0, 2.4, 2.0, 1.5, 1.2, 1.0],
    [0.2, 0.5, 1.0, 1.8, 2.2, 1.6, 0.1, -1.5, -2.0, -1.0, 0.0, 0.3, 0.5, 0.7, 1.0, 1.5, 1.8, 1.5, 1.1, 0.9, 0.7],
    [0.1, 0.5, 1.2, 2.2, 2.7, 1.9, 0.0, -1.8, -2.3, -1.2, -0.1, 0.2, 0.3, 0.5, 0.7, 1.0, 1.3, 1.1, 0.8, 0.6, 0.5],
    [0.0, 0.5, 1.5, 2.8, 3.3, 2.3, 0.0, -2.1, -2.5, -1.4, -0.2, 0.1, 0.2, 0.3, 0.4, 0.5, 0.6, 0.5, 0.4, 0.4, 0.3],
    [-0.1, 0.5, 1.7, 3.2, 3.8, 2.6, 0.0, -2.3, -2.7, -1.5, -0.3, 0.0, 0.1, 0.2, 0.3, 0.3, 0.4, 0.4, 0.3, 0.3, 0.3],
    [-0.2, 0.4, 1.6, 3.1, 3.7, 2.5, -0.1, -2.4, -2.8, -1.6, -0.4, -0.1, 0.0, 0.1, 0.2, 0.2, 0.3, 0.3, 0.2, 0.2, 0.2],
]
P4_WN_D = [1527, 1518, 1510, 1502, 1495, 1489, 1484, 1480, 1478, 1475]
P4_D = [
    [0.1, 0.1, 0.1, 0.1, 0.1, 0.2, 0.3, 0.4, 0.4, 0.4],
    [1.9, 1.8, 1.7, 1.6, 1.2, 0.6, 1.2, 2.6, 3.4, 2.2],
    [1.6, 1.5, 1.4, 1.3, 0.9, 0.3, 0.9, 2.1, 2.8, 1.8],
    [1.4, 1.3, 1.2, 1.1, 0.7, 0.1, 0.7, 1.8, 2.4, 1.5],
    [1.1, 1.0, 0.9, 0.8, 0.4, -0.1, 0.5, 1.5, 2.0, 1.3],
    [0.9, 0.8, 0.7, 0.6, 0.2, -0.3, 0.3, 1.2, 1.7, 1.1],
    [0.7, 0.6, 0.4, 0.2, -0.2, -0.6, 0.0, 0.8, 1.2, 0.8],
    [0.5, 0.4, 0.3, 0.1, -0.2, -0.5, 0.0, 0.7, 1.0, 0.7],
    [0.3, 0.3, 0.2, 0.1, -0.1, -0.3, 0.1, 0.7, 1.0, 0.7],
    [0.3, 0.3, 0.2, 0.1, -0.1, -0.3, 0.2, 0.8, 1.1, 0.8],
    [0.2, 0.2, 0.1, 0.0, -0.2, -0.4, 0.1, 0.7, 1.0, 0.7],
]
P4_WN_E = [1440, 1430, 1420, 1412, 1406, 1402, 1398, 1392, 1384, 1376, 1368, 1360, 1350]
P4_E = [
    [0.3, 0.3, 0.3, 0.3, 0.3, 0.3, 0.3, 0.3, 0.3, 0.3, 0.3, 0.3, 0.3],
    [1.85, 1.8, 1.75, 1.8, 1.85, 1.85, 1.8, 1.7, 1.6, 1.6, 1.7, 1.8, 1.9],
    [1.25, 1.2, 1.2, 1.25, 1.3, 1.3, 1.25, 1.2, 1.3, 1.5, 1.7, 1.85, 2.0],
    [1.1, 1.05, 1.05, 1.1, 1.2, 1.2, 1.1, 1.05, 1.1, 1.2, 1.3, 1.4, 1.5],
    [0.85, 0.85, 0.85, 0.95, 1.1, 1.15, 1.0, 0.9, 0.9, 0.95, 1.0, 1.1, 1.2],
    [0.8, 0.8, 0.8, 0.95, 1.15, 1.2, 1.05, 0.85, 0.85, 0.9, 0.95, 1.0, 1.1],
    [0.5, 0.55, 0.6, 0.85, 1.2, 1.3, 1.05, 0.7, 0.6, 0.65, 0.7, 0.75, 0.8],
    [0.4, 0.45, 0.5, 0.8, 1.2, 1.35, 1.05, 0.65, 0.5, 0.55, 0.6, 0.65, 0.7],
    [0.2, 0.3, 0.4, 0.8, 1.3, 1.45, 1.1, 0.6, 0.4, 0.45, 0.5, 0.55, 0.6],
    [0.1, 0.2, 0.35, 0.85, 1.4, 1.55, 1.15, 0.6, 0.45, 0.45, 0.5, 0.5, 0.55],
    [0.0, 0.15, 0.3, 0.8, 1.35, 1.5, 1.1, 0.55, 0.4, 0.4, 0.45, 0.45, 0.5],
]
P4_GS_L_WN = [2250, 2150, 2050, 1950, 1850]
P4_GS_L = [-0.1, -0.1, -0.1, -0.1, -0.1]
P4_GS_R_WN = [1650, 1635, 1625, 1617, 1611, 1607, 1603, 1597, 1590, 1578, 1568, 1560, 1552, 1540, 1528, 1515,
              1505, 1498, 1494, 1490, 1486, 1480, 1474, 1467, 1461, 1455, 1450, 1445, 1440, 1432, 1420, 1405,
              1390, 1375, 1360, 1340]
P4_GS_R = [0.0, -0.1, -0.4, -1.2, -2.5, -3.3, -2.5, -1.0, -0.5, -0.6, -0.9, -1.1, -0.8, -0.5, -0.5, -0.7,
           -1.0, -1.8, -2.8, -3.7, -2.5, -0.8, -0.1, 0.15, -0.5, -1.6, -3.7, -2.4, -1.3, -0.8, -0.5, -0.3,
           -0.2, 0.0, 0.3, 0.4]

# scaled ground-state inset curves (arbitrary units)
INSET_WN = [2245, 2200, 2160, 2130, 2100, 2075, 2050, 2025, 2000, 1970, 1930, 1890, 1855]
INSET_I = [0.0, 0.0, 0.0, 0.0, -0.1, -0.35, -0.46, -0.35, -0.1, 0.0, 0.0, 0.0, 0.0]
INSET_II = [0.0, 0.05, -0.05, 0.0, -0.15, -0.3, -0.35, -0.3, -0.15, -0.05, 0.0, 0.05, 0.0]
INSET_III = [0.05, 0.0, 0.0, -0.15, -0.29, -0.2, -0.05, 0.0, 0.0, 0.0, 0.0, 0.0, 0.0]
INSET_IV = [0.0, -0.03, -0.1, -0.35, -0.72, -0.4, -0.1, -0.05, 0.0, -0.05, 0.0, -0.05, 0.0]
INSET_FACTORS = ['X 50', 'X 25', 'X 25', 'X 5']

Y_TICKS = [[0.0, 0.02, 0.04, 0.06], [0.0, 0.02, 0.04], [0.0, 0.005, 0.010, 0.015], [0.0, 0.005, 0.010]]
Y_FMT = ['%.2f', '%.2f', '%.3f', '%.3f']
Y_LIMS = [(-0.01164, 0.0703), (-0.00989, 0.0551), (-0.00243, 0.01806), (-0.00381, 0.01307)]
PANEL_NAMES = ['I', 'II', 'III', 'IV']
LEGEND_TITLES = ['Timedelay / ps', 'Timedelay / ps', 'Timedelay / ps', 'Timedelays / ps']

# ---------------- layout (pixels) ----------------
W, H = 640, 796
fig = plt.figure(figsize=(W / 100, H / 100), dpi=100)


def fx(px):
    return px / W


def fy(py):
    return 1 - py / H


TOPS = [15, 198, 382, 565]
BOTS = [198, 382, 565, 748]
LX0, LX1 = 80, 362
RX0, RX1 = 370, 660
XLIM_L = (2251.0, 1848.1)
XLIM_R = (1649.3, 1338.6)
SPC = '#7a7a7a'
LW = 1.5
GS_STYLE = dict(color='k', lw=1.2, ls=(0, (1, 1.6)))

panels = [
    dict(left=[(P1_WN_A, P1_A), (P1_WN_B, P1_B)],
         right=[(P1_WN_C, P1_C), (P1_WN_D, P1_D), (P1_WN_E, P1_E), (P1_WN_F, P1_F)],
         gsl=(P1_GS_L_WN, P1_GS_L), gsr=(P1_GS_R_WN, P1_GS_R), labels=LABELS_I, inset=INSET_I),
    dict(left=[(P2_WN_A, P2_A), (P2_WN_B, P2_B)],
         right=[(P2_WN_C, P2_C), (P2_WN_D, P2_D)],
         gsl=(P2_GS_L_WN, P2_GS_L), gsr=(P2_GS_R_WN, P2_GS_R), labels=LABELS_II, inset=INSET_II),
    dict(left=[(P3_WN_A, P3_A), (P3_WN_B, P3_B)],
         right=[(P3_WN_C, P3_C), (P3_WN_D, P3_D)],
         gsl=(P3_GS_L_WN, P3_GS_L), gsr=(P3_GS_R_WN, P3_GS_R), labels=LABELS_III, inset=INSET_III),
    dict(left=[(P4_WN_A, P4_A), (P4_WN_B, P4_B)],
         right=[(P4_WN_C, P4_C), (P4_WN_D, P4_D), (P4_WN_E, P4_E)],
         gsl=(P4_GS_L_WN, P4_GS_L), gsr=(P4_GS_R_WN, P4_GS_R), labels=LABELS_IV, inset=INSET_IV),
]

# text positions (pixels)
NAME_POS = [(100, 43), (100, 225), (100, 408), (101, 590)]
CC_POS = [(203, 35), (203, 218), (203, 403), (203, 585)]
CCP_POS = [(120, 127), (120, 313), (120, 495), None]
RING_POS = [(370, 47), (373, 234), (378, 467), (413, 643)]
YLAB_Y = [103, 295, 473, 655]
INSET_BOX = [(85, 177, 138, 187), (85, 359, 138, 371), (86, 547, 137, 557), (86, 715, 139, 726)]
LEG_TITLE = [(538, 31.5), (535, 214), (530, 398), (533, 580)]
LEG_COL2 = [(592, 47), (592, 228), (592, 412.5), (592, 596)]
ROW_H = 13.4

leg_prop = {'family': ['Liberation Sans', 'DejaVu Sans'], 'size': 8.8}

for i, P in enumerate(panels):
    top, bot = TOPS[i], BOTS[i]
    h = (bot - top) / H
    axL = fig.add_axes([fx(LX0), fy(bot), fx(LX1) - fx(LX0), h])
    axR = fig.add_axes([fx(RX0), fy(bot), fx(RX1) - fx(RX0), h])
    for ax, xl in ((axL, XLIM_L), (axR, XLIM_R)):
        ax.set_xlim(*xl)
        ax.set_ylim(*Y_LIMS[i])
        ax.patch.set_alpha(0)
        for s in ax.spines.values():
            s.set_color(SPC)
            s.set_linewidth(1.0)
        ax.spines['right'].set_visible(False)
        ax.spines['top'].set_visible(i == 0)
    axR.spines['left'].set_visible(False)

    # ground state IR
    axL.plot(P['gsl'][0], np.array(P['gsl'][1]) * 1e-3, zorder=1, **GS_STYLE)
    axR.plot(P['gsr'][0], np.array(P['gsr'][1]) * 1e-3, zorder=1, **GS_STYLE)
    # transient spectra
    for ax, segs in ((axL, P['left']), (axR, P['right'])):
        for wn, rows in segs:
            for k, row in enumerate(rows):
                ax.plot(wn, np.array(row) * 1e-3, color=COLORS[k], lw=LW,
                        solid_joinstyle='round', zorder=2 + 0.01 * k)

    axL.set_xticks([2200, 2100, 2000, 1900])
    axR.set_xticks([1600, 1500, 1400])
    axR.set_xticks([1550, 1450, 1350], minor=True)
    for ax in (axL, axR):
        ax.tick_params(axis='x', which='both', direction='in', length=5, width=1.0,
                       color=SPC, labelsize=12, pad=8, labelbottom=(i == 3), top=False)
    axL.set_yticks(Y_TICKS[i])
    axL.yaxis.set_major_formatter(FormatStrFormatter(Y_FMT[i]))
    axL.tick_params(axis='y', direction='inout', length=5, width=1.0, color=SPC, labelsize=12, pad=2)
    axR.set_yticks([])

    # texts
    fig.text(fx(NAME_POS[i][0]), fy(NAME_POS[i][1]), PANEL_NAMES[i], fontsize=16,
             fontweight='bold', ha='left', va='center')
    fig.text(fx(CC_POS[i][0]), fy(CC_POS[i][1]), 'ν(C≡C)', fontsize=12, ha='left', va='center')
    if CCP_POS[i] is not None:
        fig.text(fx(CCP_POS[i][0]), fy(CCP_POS[i][1]), 'ν(C≡C)\u2019', fontsize=12,
                 ha='left', va='center')
    fig.text(fx(RING_POS[i][0]), fy(RING_POS[i][1]), r'ν(C$_{6}$)$_{\mathrm{ring}}$',
             fontsize=12.5, ha='left', va='baseline')
    fig.text(fx(24), fy(YLAB_Y[i]), 'ΔOD', rotation=90, fontsize=13, ha='center', va='center')

    # inset box with scaled ground-state spectrum
    bx0, by0, bx1, by1 = INSET_BOX[i]
    axI = fig.add_axes([fx(bx0), fy(by1), fx(bx1) - fx(bx0), (by1 - by0) / H])
    axI.plot(INSET_WN, P['inset'], color='k', lw=0.9, ls=(0, (1, 1.4)))
    axI.set_xlim(2250, 1850)
    axI.set_ylim(-1.0, 0.25)
    axI.set_xticks([])
    axI.set_yticks([])
    axI.patch.set_alpha(0)
    for s in axI.spines.values():
        s.set_color('#333333')
        s.set_linewidth(0.8)
    fig.text(fx(bx1 + 7), fy((by0 + by1) / 2 + 1), INSET_FACTORS[i], fontsize=12.5,
             style='italic', ha='left', va='center')

    # legends (two columns placed separately)
    handles = [Line2D([], [], color=c, lw=1.8) for c in COLORS]
    handles.append(Line2D([], [], **GS_STYLE))
    labels = P['labels'] + [GS_LABEL]
    tx, tyc = LEG_TITLE[i]
    fig.legend(handles[:6], labels[:6], loc='upper left',
               bbox_to_anchor=(fx(tx), fy(tyc - ROW_H / 2)), frameon=False,
               borderpad=0, borderaxespad=0, handlelength=2.0, handletextpad=0.35,
               labelspacing=0.09, prop=leg_prop, title=LEGEND_TITLES[i],
               title_fontproperties=leg_prop, alignment='left')
    cx, cyc = LEG_COL2[i]
    fig.legend(handles[6:], labels[6:], loc='upper left',
               bbox_to_anchor=(fx(cx), fy(cyc - ROW_H / 2)), frameon=False,
               borderpad=0, borderaxespad=0, handlelength=2.0, handletextpad=0.35,
               labelspacing=0.09, prop=leg_prop)

# axis-break marks
for y in [15, 198, 382, 565, 748]:
    for x in [362, 370]:
        fig.add_artist(Line2D([fx(x - 2), fx(x + 2)], [fy(y - 4), fy(y + 4)], color=SPC, lw=1.0))

fig.text(fx(372), fy(786), 'Wavenumbers/cm$^{-1}$', fontsize=14, ha='center', va='center')

fig.savefig('out.png', dpi=100)
